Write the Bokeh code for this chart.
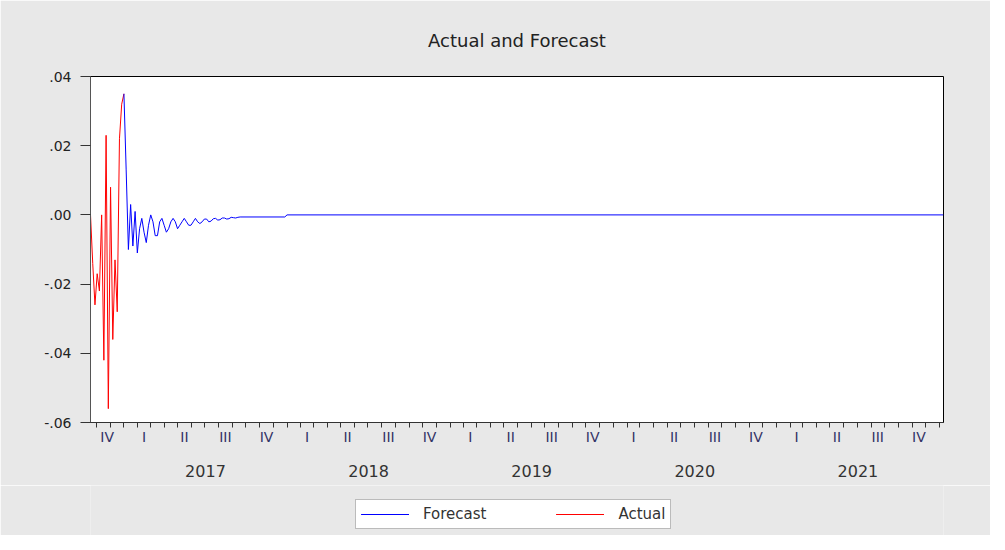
import numpy as np
import pandas as pd
from bokeh.plotting import figure
from bokeh.layouts import column
from bokeh.models import Range1d, FixedTicker, LinearAxis, Legend, LegendItem
from bokeh.embed import file_html
from bokeh.resources import INLINE

# ---------------- data ----------------
start_date = "2016-10-18"
step = "5D"
n_periods = 383

actual_values = [0.000, -0.014, -0.026, -0.017, -0.022, 0.000, -0.042, 0.023,
                 -0.056, 0.008, -0.036, -0.013, -0.028, 0.022, 0.032, 0.035]

forecast_values = [0.035, 0.013, -0.010, 0.003, -0.009, 0.001, -0.011, -0.004,
                   -0.001, -0.005, -0.008, -0.003, 0.000, -0.002, -0.006, -0.006,
                   -0.002, -0.001, -0.003, -0.005, -0.004, -0.002, -0.001, -0.002,
                   -0.004, -0.003, -0.002, -0.001, -0.002, -0.003, -0.003, -0.002,
                   -0.001, -0.002, -0.0025, -0.002, -0.0012, -0.0012, -0.002, -0.0018,
                   -0.0011, -0.001, -0.0015, -0.0014, -0.0009, -0.0009, -0.0012, -0.0011,
                   -0.0007, -0.0008, -0.0009, -0.0007, -0.0006]
forecast_tail_index = [87, 88, 382]
forecast_tail_values = [-0.0006, 0.0000, 0.0000]

quarter_names = ["I", "II", "III", "IV"]
year_labels = ["2017", "2018", "2019", "2020", "2021"]
y_tick_values = [-0.06, -0.04, -0.02, 0.0, 0.02, 0.04]
y_tick_labels = ["-.06", "-.04", "-.02", ".00", ".02", ".04"]

# ---------------- helpers ----------------
def to_dec(ts):
    ts = pd.DatetimeIndex(ts)
    days = np.where(ts.is_leap_year, 366.0, 365.0)
    return np.asarray(ts.year + (ts.dayofyear - 1) / days, dtype=float)

dates = pd.date_range(start_date, periods=n_periods, freq=step)
xdec = to_dec(dates)
x0, x1 = float(xdec[0]), float(xdec[-1])

actual_x = xdec[:len(actual_values)]
f0 = len(actual_values) - 1
forecast_idx = list(range(f0, f0 + len(forecast_values))) + forecast_tail_index
forecast_x = xdec[forecast_idx]
forecast_y = forecast_values + forecast_tail_values

# quarter label positions (centre of visible part of each quarter)
q_starts = pd.date_range("2016-10-01", "2022-01-01", freq="QS")
q_dec = to_dec(q_starts)
q_centers, q_labels = [], []
for i in range(len(q_starts) - 1):
    lo, hi = max(q_dec[i], x0), min(q_dec[i + 1], x1)
    if hi - lo > 0.05:
        c = round(float((lo + hi) / 2), 6)
        q_centers.append(c)
        q_labels.append(quarter_names[(q_starts[i].month - 1) // 3])

month_ticks = [float(v) for v in to_dec(pd.date_range("2016-11-01", "2022-01-01", freq="MS")) if x0 <= v <= x1]

year_centers = [float(int(y)) + 0.5 for y in year_labels]

FONT = "DejaVu Sans"
BG = "#e8e8e8"

# ---------------- main figure ----------------
xr = Range1d(x0, x1)
yr = Range1d(-0.06, 0.04)
p = figure(width=990, height=485, output_backend="svg", toolbar_location=None,
           x_range=xr, y_range=yr,
           min_border_left=90, min_border_right=47, min_border_top=76, min_border_bottom=63)

p.background_fill_color = "white"
p.border_fill_color = BG
p.outline_line_color = "black"
p.outline_line_width = 1
p.grid.visible = False

p.title.text = "Actual and Forecast"
p.title.align = "center"
p.title.text_font = FONT
p.title.text_font_size = "18px"
p.title.text_font_style = "normal"
p.title.text_color = "#222222"
p.title.standoff = 52

r_a = p.line(actual_x, actual_values, line_color="#ff0000", line_width=1)
r_f = p.line(forecast_x, forecast_y, line_color="#0000ff", line_width=1)

# y axis
ya = p.yaxis[0]
ya.ticker = FixedTicker(ticks=y_tick_values, minor_ticks=[])
ya.major_label_overrides = dict(zip(y_tick_values, y_tick_labels))
ya.major_tick_out = 10
ya.major_tick_in = 0
ya.major_label_standoff = 9
ya.major_label_text_font = FONT
ya.major_label_text_font_size = "14px"
ya.major_label_text_color = "#222222"
ya.axis_line_color = "#555555"
ya.major_tick_line_color = "#333333"

# x axis: quarter labels, month ticks
xa = p.xaxis[0]
xa.ticker = FixedTicker(ticks=q_centers, minor_ticks=month_ticks)
xa.major_label_overrides = dict(zip(q_centers, q_labels))
xa.major_tick_out = 0
xa.major_tick_in = 0
xa.minor_tick_out = 5
xa.minor_tick_in = 0
xa.minor_tick_line_color = "#333333"
xa.major_label_standoff = 1
xa.major_label_text_font = FONT
xa.major_label_text_font_size = "14px"
xa.major_label_text_color = "#333366"
xa.axis_line_color = "#333333"

# x axis: years
xa2 = LinearAxis(ticker=FixedTicker(ticks=year_centers, minor_ticks=[]))
xa2.major_label_overrides = dict(zip(year_centers, year_labels))
xa2.axis_line_alpha = 0
xa2.major_tick_out = 0
xa2.major_tick_in = 0
xa2.minor_tick_out = 0
xa2.major_label_standoff = 17
xa2.major_label_text_font = FONT
xa2.major_label_text_font_size = "16px"
xa2.major_label_text_color = "#333333"
p.add_layout(xa2, "below")

# ---------------- legend strip ----------------
# the same two series, hidden here; the strip only shows their legend
p2 = figure(width=990, height=50, output_backend="svg", toolbar_location=None,
            x_range=xr, y_range=yr,
            x_axis_location=None, y_axis_location=None, min_border=0)
p2.grid.visible = False
p2.outline_line_color = None
p2.background_fill_color = BG
p2.background_fill_alpha = 1
p2.border_fill_color = BG
l_f = p2.line(forecast_x, forecast_y, line_color="#0000ff", line_width=1, visible=False)
l_a = p2.line(actual_x, actual_values, line_color="#ff0000", line_width=1, visible=False)

# each renderer listed several times so the legend stroke ends up in its own colour
legend = Legend(items=[LegendItem(label="Forecast", renderers=[l_f, l_f, l_f, l_f]),
                       LegendItem(label="Actual", renderers=[l_a, l_a, l_a, l_a])],
                orientation="horizontal", location=(265, 6))
legend.click_policy = "none"
legend.inactive_fill_alpha = 0
legend.label_text_font = FONT
legend.label_text_font_size = "15px"
legend.label_text_color = "#333333"
legend.glyph_width = 48
legend.glyph_height = 14
legend.label_standoff = 14
legend.spacing = 70
legend.padding = 5
legend.margin = 0
legend.border_line_color = "#777777"
legend.border_line_width = 1
legend.background_fill_color = "white"
legend.background_fill_alpha = 1
p2.add_layout(legend, "center")

layout = column(p, p2, spacing=0)
open("out.html", "w").write(file_html(layout, INLINE))
